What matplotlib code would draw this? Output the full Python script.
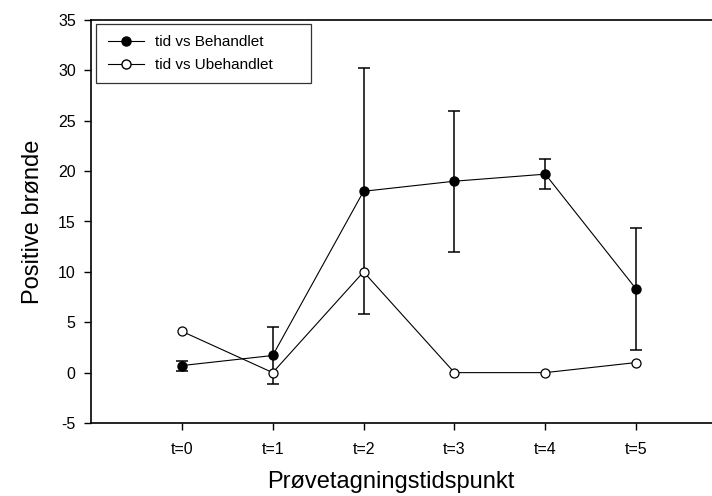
import numpy as np
import matplotlib.pyplot as plt
from matplotlib.lines import Line2D

plt.rcParams['font.family'] = ['Liberation Sans', 'DejaVu Sans']
plt.rcParams['axes.unicode_minus'] = False

# data
tider = ["t=0", "t=1", "t=2", "t=3", "t=4", "t=5"]
behandlet = [0.7, 1.7, 18.0, 19.0, 19.7, 8.3]
behandlet_err = [0.5, 2.8, 12.2, 7.0, 1.5, 6.1]
ubehandlet = [4.1, 0.0, 10.0, 0.0, 0.0, 1.0]

x = np.arange(len(tider))

fig = plt.figure(figsize=(7.12, 4.96), dpi=100)
# axes runs off the right edge, like the original export
ax = fig.add_axes([91/712, 73/496, 636/712, 403/496])

ax.errorbar(x, behandlet, yerr=behandlet_err, color='black', lw=0.8,
            marker='o', ms=6.5, mfc='black', mec='black',
            ecolor='black', elinewidth=1.1, capsize=4, capthick=1.1, zorder=3)
ax.plot(x, ubehandlet, color='black', lw=0.8, marker='o', ms=6.5,
        mfc='white', mec='black', mew=0.9, zorder=4)

ax.set_xlim(-1, 6)
ax.set_ylim(-5, 35)
ax.set_xticks(x)
ax.set_xticklabels(tider)
ax.set_yticks(np.arange(-5, 36, 5))

ax.spines['right'].set_visible(False)
for s in ['left', 'bottom', 'top']:
    ax.spines[s].set_linewidth(1.2)
ax.tick_params(direction='out', length=5, width=1, labelsize=11.5, pad=6)
ax.tick_params(axis='x', pad=9)

ax.set_xlabel('Prøvetagningstidspunkt', fontsize=17)
ax.set_ylabel('Positive brønde', fontsize=17, labelpad=10)
ax.xaxis.set_label_coords(300/636, -0.12)

handles = [
    Line2D([], [], color='black', lw=0.8, marker='o', ms=6.5,
           mfc='black', mec='black', label='tid vs Behandlet'),
    Line2D([], [], color='black', lw=0.8, marker='o', ms=6.5,
           mfc='white', mec='black', label='tid vs Ubehandlet'),
]
leg = ax.legend(handles=handles, loc='upper left',
                bbox_to_anchor=(0.008, 0.99, 0.338, 0.0), mode='expand',
                fontsize=11, frameon=True, fancybox=False, edgecolor='black',
                borderpad=0.75, handlelength=2.4, handletextpad=0.7,
                labelspacing=0.55, borderaxespad=0)
leg.get_frame().set_linewidth(0.9)

fig.savefig('out.png', dpi=100)
